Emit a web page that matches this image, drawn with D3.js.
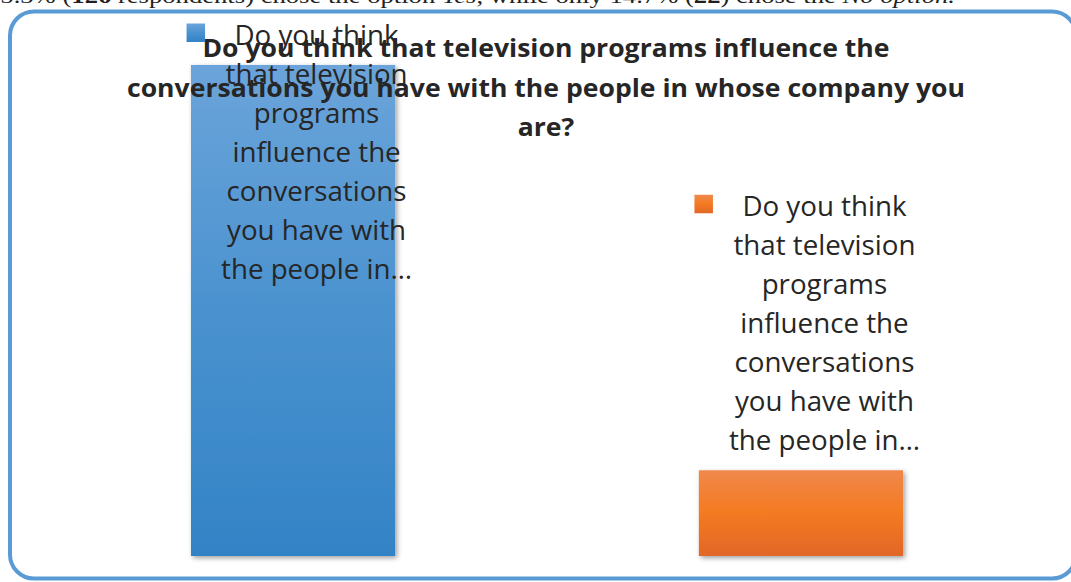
<!DOCTYPE html>
<html>
<head>
<meta charset="utf-8">
<script src="https://cdn.jsdelivr.net/npm/d3@7"></script>
<style>
  html, body { margin: 0; padding: 0; background: #fff; }
  svg { display: block; }
</style>
</head>
<body>
<svg id="chart" width="1071" height="582"></svg>
<script>
// Survey answers
const categories = ["Yes", "No"];
const respondents = [126, 22];
const axisMax = 140;

// Series name shown beside each bar (truncated as in the source workbook)
const seriesLabelLines = [
  "Do you think", "that television", "programs", "influence the",
  "conversations", "you have with", "the people in\u2026"
];

const titleLines = [
  "Do you think that television programs influence the",
  "conversations you have with the people in whose company you",
  "are?"
];

// Running text from the page above the figure
const noteParts = [
  { t: "85.3% (", w: "normal", s: "normal" },
  { t: "126", w: "bold", s: "normal" },
  { t: " respondents) chose the option ", w: "normal", s: "normal" },
  { t: "Yes", w: "normal", s: "italic" },
  { t: ", while only 14.7% (", w: "normal", s: "normal" },
  { t: "22", w: "bold", s: "normal" },
  { t: ") chose the ", w: "normal", s: "normal" },
  { t: "No option.", w: "normal", s: "italic" }
];

const palette = {
  Yes: { top: "#6BA4DA", mid: "#4A92CF", bot: "#3383C6" },
  No:  { top: "#F0884C", mid: "#F47A20", bot: "#E26729" }
};

const svg = d3.select("#chart");
const defs = svg.append("defs");

const shadow = defs.append("filter").attr("id", "barShadow")
  .attr("x", "-10%").attr("y", "-10%").attr("width", "125%").attr("height", "125%");
shadow.append("feDropShadow")
  .attr("dx", 2).attr("dy", 2).attr("stdDeviation", 2.4)
  .attr("flood-color", "#000").attr("flood-opacity", 0.38);

categories.forEach(c => {
  const g = defs.append("linearGradient").attr("id", "grad" + c)
    .attr("x1", 0).attr("y1", 0).attr("x2", 0).attr("y2", 1);
  g.append("stop").attr("offset", "0%").attr("stop-color", palette[c].top);
  g.append("stop").attr("offset", "50%").attr("stop-color", palette[c].mid);
  g.append("stop").attr("offset", "100%").attr("stop-color", palette[c].bot);
});

// Page text cut off by the figure's top edge
const note = svg.append("text")
  .attr("x", -13).attr("y", 2.5)
  .attr("font-family", "'Liberation Serif', 'Times New Roman', serif")
  .attr("font-size", 21).attr("fill", "#231F20");
note.selectAll("tspan").data(noteParts).join("tspan")
  .attr("font-weight", d => d.w).attr("font-style", d => d.s)
  .text(d => d.t);
note.attr("textLength", 968).attr("lengthAdjust", "spacingAndGlyphs");

// Chart frame
svg.append("rect")
  .attr("x", 10).attr("y", 11.5).attr("width", 1066).attr("height", 567)
  .attr("rx", 24).attr("ry", 24)
  .attr("fill", "#fff").attr("stroke", "#5B9BD5").attr("stroke-width", 4);

// Scales
const x = d3.scaleBand().domain(categories)
  .range([38.6, 1055.4]).paddingInner(0.598).paddingOuter(0.3);
const y = d3.scaleLinear().domain([0, axisMax]).range([556, 10.4]);

const data = categories.map((c, i) => ({ cat: c, value: respondents[i] }));

// Bars
svg.append("g").selectAll("rect").data(data).join("rect")
  .attr("x", d => x(d.cat))
  .attr("y", d => y(d.value))
  .attr("width", x.bandwidth())
  .attr("height", d => y(0) - y(d.value))
  .attr("fill", d => `url(#grad${d.cat})`)
  .attr("filter", "url(#barShadow)");

// Title
const title = svg.append("g")
  .attr("font-family", "'Open Sans', sans-serif")
  .attr("font-weight", "bold").attr("font-size", 25)
  .attr("fill", "#262626").attr("text-anchor", "middle");
const titleEls = title.selectAll("text").data(titleLines).join("text")
  .attr("x", 546).attr("y", (d, i) => 57 + i * 39.5)
  .text(d => d);
const tScale = 838 / titleEls.nodes()[1].getComputedTextLength();
titleEls.each(function () {
  const w = this.getComputedTextLength();
  d3.select(this).attr("textLength", w * tScale).attr("lengthAdjust", "spacingAndGlyphs");
});

// Series labels with legend key
const lineGap = 39;
const labelFont = 27.5;
const labels = svg.append("g")
  .attr("font-family", "'Open Sans', sans-serif")
  .attr("font-size", labelFont).attr("fill", "#262626");

data.forEach(d => {
  const cx = x(d.cat) + x.bandwidth() / 2 + 23.5;
  const blockH = (seriesLabelLines.length - 1) * lineGap;
  const firstBase = Math.max(45, y(d.value) - 20 - blockH);
  const g = labels.append("g");
  g.append("rect")
    .attr("x", cx - 130).attr("y", firstBase - 21.5)
    .attr("width", 18.5).attr("height", 18.5)
    .attr("fill", `url(#grad${d.cat})`);
  const lines = g.selectAll("text").data(seriesLabelLines).join("text")
    .attr("x", cx).attr("y", (t, i) => firstBase + i * lineGap)
    .attr("text-anchor", "middle")
    .text(t => t);
  const ref = lines.nodes()[1].getComputedTextLength();
  const s = 182 / ref;
  lines.each(function () {
    const w = this.getComputedTextLength();
    d3.select(this).attr("textLength", w * s).attr("lengthAdjust", "spacingAndGlyphs");
  });
});
</script>
</body>
</html>
